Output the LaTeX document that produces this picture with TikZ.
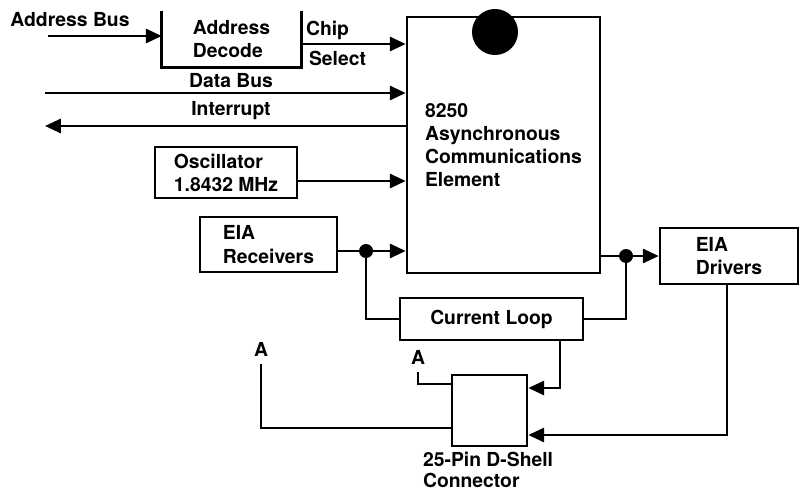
\documentclass[tikz,border=0pt]{standalone}
\usepackage{fontspec}
\setmainfont{TeX Gyre Heros}
\usetikzlibrary{arrows.meta}
\tikzset{
  blk/.style={draw, line width=1.5pt, inner sep=0pt, align=left,
    font=\fontsize{11}{13.2}\selectfont\bfseries},
  lbl/.style={inner sep=1pt, align=left,
    font=\fontsize{11}{13.2}\selectfont\bfseries},
  arr/.style={-{Triangle[length=9pt,width=8pt]}},
}
\begin{document}
\begin{tikzpicture}[x=0.2mm, y=-0.2mm, line width=1.5pt]
  \fill[white] (0,0) rectangle (801,493);
  \useasboundingbox (0,0) rectangle (801,493);
  % Blocks
  \node[blk, draw=none, minimum width=27.4mm, minimum height=10.8mm] (dec) at (231.5,39) {Address\\Decode};
  \draw (dec.north west) |- (dec.south east) -- (dec.north east);
  \node[blk, minimum width=38.6mm, minimum height=51.2mm] (ace) at (503.5,145)
    {8250\\Asynchronous\\Communications\\Element};
  \fill (495,32) circle (4.6mm);
  \node[blk, minimum width=28.4mm, minimum height=10.2mm] (osc) at (226,172.5) {Oscillator\\1.8432 MHz};
  \node[blk, minimum width=27.4mm, minimum height=11mm] (rcv) at (268.5,244.5) {EIA\\Receivers};
  \node[blk, minimum width=36.6mm, minimum height=8.4mm] (loop) at (491.5,319) {Current Loop};
  \node[blk, minimum width=27.6mm, minimum height=11.2mm] (drv) at (729,256) {EIA\\Drivers};
  \node[blk, minimum width=15mm, minimum height=14.2mm] (conn) at (489.5,410.5) {};
  \node[lbl, anchor=north west, font=\fontsize{11}{12}\selectfont\bfseries] (connlbl) at (420,449) {25-Pin D-Shell\\Connector};
  % Bus side
  \node[lbl] (abuslbl) at (70,20) {Address Bus};
  \coordinate (abus) at (48,36);
  \draw[arr] (abus) -- (abus -| dec.west);
  \draw[arr] (dec.east |- 0,44) -- (ace.west |- 0,44);
  \node[lbl, anchor=west] (chip) at (303,30) {Chip};
  \node[lbl, anchor=west] (sel) at (306,58) {Select};
  \coordinate (dbus) at (45,93);
  \draw[arr] (dbus) -- (dbus -| ace.west);
  \node[lbl] (dbuslbl) at (231,81) {Data Bus};
  \coordinate (irq) at (45,126);
  \draw[arr] (irq -| ace.west) -- (irq);
  \node[lbl] (irqlbl) at (231,111) {Interrupt};
  \draw[arr] (osc.east |- 0,181) -- (ace.west |- 0,181);
  % Serial side
  \coordinate (rj) at (366,251);
  \draw[arr] (rcv.east |- rj) -- (rj -| ace.west);
  \draw (rj) |- (loop.west);
  \fill (rj) circle (1.4mm);
  \coordinate (dj) at (626,256);
  \draw[arr] (ace.east |- dj) -- (drv.west |- dj);
  \draw (dj) |- (loop.east);
  \fill (dj) circle (1.4mm);
  \draw[arr] (drv.south -| 727,0) |- (conn.east |- 0,435);
  \draw[arr] (loop.south -| 560,0) |- (conn.east |- 0,388);
  % Connector outputs
  \node[lbl] (a1) at (418,357) {A};
  \draw[shorten >=3pt] (conn.west |- 0,384) -| (a1.south);
  \node[lbl] (a2) at (261,349) {A};
  \draw[shorten >=3pt] (conn.west |- 0,428) -| (a2.south);
\end{tikzpicture}
\end{document}
